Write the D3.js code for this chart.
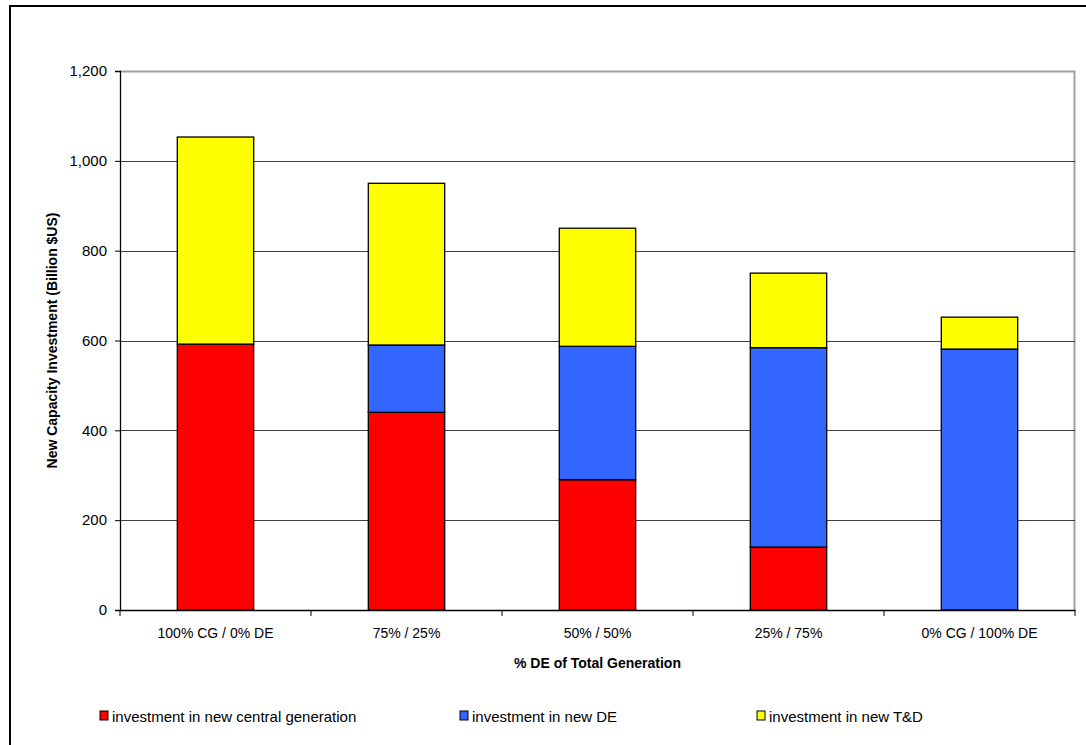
<!DOCTYPE html>
<html>
<head>
<meta charset="utf-8">
<script src="https://cdn.jsdelivr.net/npm/d3@7"></script>
<style>
  body { margin: 0; background: #fff; }
  svg { display: block; font-family: "Liberation Sans", Arial, sans-serif; }
</style>
</head>
<body>
<div id="chart"></div>
<script>
"use strict";

// data (Billion $US)
var categories = ["100% CG / 0% DE", "75%  / 25%", "50% / 50%", "25% / 75%", "0% CG / 100% DE"];
var centralGen = [592, 440, 290, 140, 0];
var newDE = [0, 150, 297, 444, 581];
var newTD = [461, 360, 263, 166, 71];
var seriesNames = ["investment in new central generation", "investment in new DE", "investment in new T&D"];
var yTicks = [0, 200, 400, 600, 800, 1000, 1200];

var colors = ["#ff0000", "#3366ff", "#ffff00"];

var width = 1086, height = 745;
var margin = { top: 71, right: 11, bottom: 135, left: 120 };
var plotW = width - margin.left - margin.right,
    plotH = height - margin.top - margin.bottom;

var svg = d3.select("#chart").append("svg")
    .attr("width", width)
    .attr("height", height);

// outer chart border
svg.append("rect")
    .attr("x", 10).attr("y", 6)
    .attr("width", width + 10).attr("height", height + 10)
    .attr("fill", "none")
    .attr("stroke", "#000")
    .attr("stroke-width", 2);

var g = svg.append("g")
    .attr("transform", "translate(" + margin.left + "," + margin.top + ")");

var x = d3.scaleBand()
    .domain(categories)
    .range([0, plotW])
    .paddingInner(0)
    .paddingOuter(0);
var y = d3.scaleLinear()
    .domain([0, 1200])
    .range([plotH, 0]);

// plot area border (top & right), gray
g.append("path")
    .attr("d", "M0,0.5H" + (plotW - 0.5) + "V" + plotH)
    .attr("fill", "none")
    .attr("stroke", "#a0a0a0")
    .attr("stroke-width", 2);

// gridlines
g.selectAll(".grid")
    .data(yTicks.filter(function (d) { return d > 0 && d < 1200; }))
    .enter().append("line")
    .attr("class", "grid")
    .attr("x1", 0).attr("x2", plotW)
    .attr("y1", function (d) { return Math.round(y(d)) + 0.5; })
    .attr("y2", function (d) { return Math.round(y(d)) + 0.5; })
    .attr("stroke", "#404040")
    .attr("stroke-width", 1);

// stacked bars
var table = categories.map(function (c, i) {
    return { cat: c, cg: centralGen[i], de: newDE[i], td: newTD[i] };
});
var stack = d3.stack().keys(["cg", "de", "td"]);
var layers = stack(table);
var barW = x.bandwidth() * 0.4;

g.selectAll(".layer")
    .data(layers)
    .enter().append("g")
    .attr("class", "layer")
    .attr("fill", function (d, i) { return colors[i]; })
    .selectAll("rect")
    .data(function (d) { return d.filter(function (p) { return p[1] - p[0] > 0; }); })
    .enter().append("rect")
    .attr("x", function (d) { return x(d.data.cat) + (x.bandwidth() - barW) / 2; })
    .attr("y", function (d) { return y(d[1]); })
    .attr("width", barW)
    .attr("height", function (d) { return y(d[0]) - y(d[1]); })
    .attr("stroke", "#000")
    .attr("stroke-width", 1.3);

// y axis
var yAxis = g.append("g")
    .call(d3.axisLeft(y).tickValues(yTicks).tickSize(5).tickPadding(8)
        .tickFormat(d3.format(",")));
yAxis.select(".domain").attr("stroke", "#000").attr("stroke-width", 1.3);
yAxis.selectAll(".tick line").attr("stroke", "#000");
yAxis.selectAll("text").attr("font-size", 15).attr("fill", "#000")
    .attr("font-family", "Liberation Sans, Arial, sans-serif");

// x axis
var xAxis = g.append("g")
    .attr("transform", "translate(0," + plotH + ")")
    .call(d3.axisBottom(x).tickSize(0).tickPadding(18));
xAxis.select(".domain").attr("stroke", "#000").attr("stroke-width", 1.3);
xAxis.selectAll("text").attr("font-size", 14).attr("fill", "#000")
    .attr("font-family", "Liberation Sans, Arial, sans-serif");

// category separator ticks
g.selectAll(".xtick")
    .data(d3.range(categories.length + 1))
    .enter().append("line")
    .attr("x1", function (i) { return i * x.step(); })
    .attr("x2", function (i) { return i * x.step(); })
    .attr("y1", plotH).attr("y2", plotH + 6)
    .attr("stroke", "#000");

// axis titles
svg.append("text")
    .attr("x", margin.left + plotW / 2)
    .attr("y", 668)
    .attr("text-anchor", "middle")
    .attr("font-size", 14)
    .attr("font-weight", "bold")
    .text("% DE of Total Generation");

svg.append("text")
    .attr("transform", "translate(57," + (margin.top + plotH / 2) + ") rotate(-90)")
    .attr("text-anchor", "middle")
    .attr("font-size", 14)
    .attr("font-weight", "bold")
    .text("New Capacity Investment (Billion $US)");

// legend
var legendX = [100, 460, 757];
var legend = svg.selectAll(".legend")
    .data(seriesNames)
    .enter().append("g")
    .attr("class", "legend")
    .attr("transform", function (d, i) { return "translate(" + legendX[i] + ",711)"; });
legend.append("rect")
    .attr("width", 8).attr("height", 9)
    .attr("fill", function (d, i) { return colors[i]; })
    .attr("stroke", "#000");
legend.append("text")
    .attr("x", 12).attr("y", 10.5)
    .attr("font-size", 15)
    .text(function (d) { return d; });
</script>
</body>
</html>
